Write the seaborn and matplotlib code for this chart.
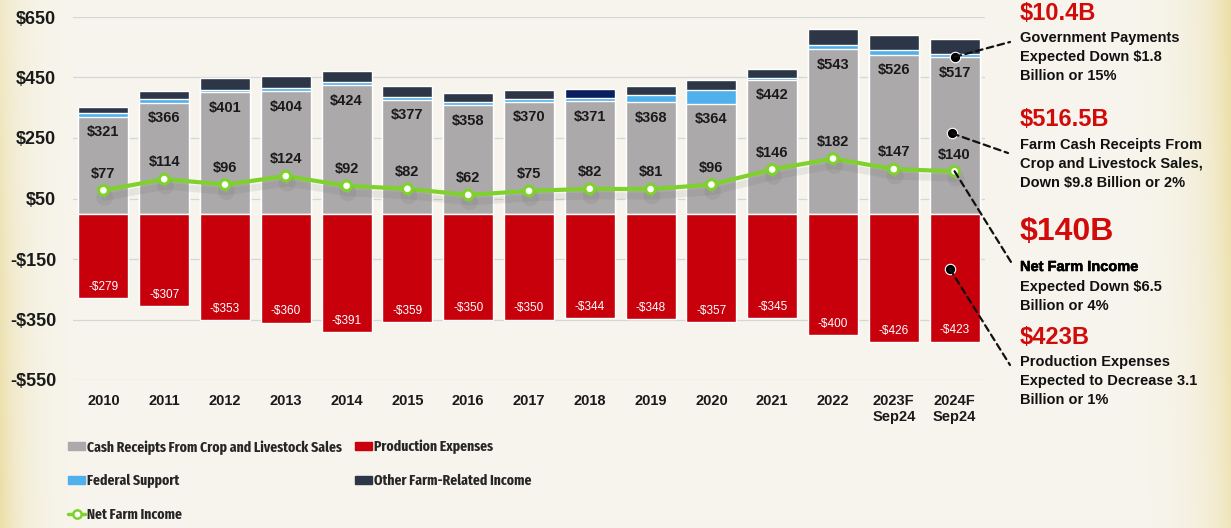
import numpy as np
import pandas as pd
import matplotlib
matplotlib.use("Agg")
import matplotlib.pyplot as plt
import matplotlib.patheffects as pe
from matplotlib import font_manager as fm
from matplotlib.patches import Patch, ConnectionPatch
from matplotlib.lines import Line2D
import seaborn as sns

# ---- data (billions of dollars) ----
years = ["2010", "2011", "2012", "2013", "2014", "2015", "2016", "2017",
         "2018", "2019", "2020", "2021", "2022", "2023F\nSep24", "2024F\nSep24"]
cash_receipts = [321, 366, 401, 404, 424, 377, 358, 370, 371, 368, 364, 442, 543, 526, 517]
federal_support = [10, 12, 9, 10, 12, 9, 11, 8, 11, 23, 46, 6, 14, 14, 10]
other_income = [20, 28, 37, 40, 34, 36, 30, 31, 31, 30, 31, 30, 52, 52, 49]
production_expenses = [-279, -307, -353, -360, -391, -359, -350, -350, -344, -348,
                       -357, -345, -400, -426, -423]
net_farm_income = [77, 114, 96, 124, 92, 82, 62, 75, 82, 81, 96, 146, 182, 147, 140]
y_ticks = [650, 450, 250, 50, -150, -350, -550]
legend_left = ["Cash Receipts From Crop and Livestock Sales", "Federal Support",
               "Net Farm Income"]
legend_right = ["Production Expenses", "Other Farm-Related Income"]

GRAY = "#aba9aa"
RED = "#c8000b"
BLUE = "#4fb0ec"
DARK = "#2c3646"
NAVY = "#0b1d5c"
GREEN = "#7fd12b"
HEAD_RED = "#d10a0a"

sns.set_theme(style="white")
plt.rcParams["font.family"] = ["Liberation Sans", "DejaVu Sans"]

# narrowest bold face available for the legend
def narrow_bold():
    best = None
    for f in fm.fontManager.ttflist:
        key = (f.name + " " + f.fname).lower().replace("-", "").replace(" ", "")
        if "italic" in key or "oblique" in key:
            continue
        w = f.weight if isinstance(f.weight, int) else {"bold": 700}.get(f.weight, 400)
        if w < 600 or w > 800:
            continue
        if "extracondensed" in key or "ultracondensed" in key:
            rank = 0
        elif "semicondensed" in key:
            rank = 2
        elif "condensed" in key or "narrow" in key or f.stretch == "condensed":
            rank = 1
        else:
            continue
        score = (rank, abs(w - 700))
        if best is None or score < best[0]:
            best = (score, f.fname)
    return best[1] if best else None

W, H = 1231, 528
fig = plt.figure(figsize=(W / 100, H / 100), dpi=100)
fig.patch.set_facecolor("#f7f5ee")
renderer = fig.canvas.get_renderer()

nb = narrow_bold()
if nb:
    leg_prop = fm.FontProperties(fname=nb, size=11)
else:
    leg_prop = fm.FontProperties(family="Liberation Sans", weight="bold", size=11)
# size the legend font so the longest entry stays clear of the second column
probe = fig.text(0, 0, legend_left[0], fontproperties=leg_prop)
wpx = probe.get_window_extent(renderer).width
probe.remove()
leg_size = float(np.clip(11 * 255.0 / wpx, 9.0, 11.5))
leg_prop.set_size(leg_size)

def fx(px):
    return px / W

def fy(py):
    return 1 - py / H

# parchment-like background with warm edges
bg = fig.add_axes([0, 0, 1, 1], zorder=-10)
xs = np.arange(W)[None, :].astype(float)
ys = np.arange(H)[:, None].astype(float)
base = np.array([247, 245, 238]) / 255.0
warm = np.array([236, 222, 165]) / 255.0
left = np.exp(-xs / 22.0) * (0.55 + 0.45 * ys / H)
right = np.exp(-(W - 1 - xs) / 28.0) * (0.7 + 0.3 * (1 - ys / H))
wgt = np.clip(left + right, 0, 1)[..., None]
img = base * (1 - wgt) + warm * wgt
bg.imshow(img, aspect="auto", extent=[0, 1, 0, 1])
bg.axis("off")

ax = fig.add_axes([fx(73), fy(380), fx(985) - fx(73), fy(17) - fy(380)])
ax.set_facecolor("none")

df = pd.DataFrame({
    "year": years,
    "cash": cash_receipts,
    "fed": federal_support,
    "other": other_income,
    "exp": production_expenses,
    "net": net_farm_income,
})
df["cash_fed"] = df["cash"] + df["fed"]
df["total"] = df["cash_fed"] + df["other"]

bw = 0.82
top_colors = [NAVY if y == "2018" else DARK for y in years]
sns.barplot(data=df, x="year", y="total", hue="year", palette=top_colors,
            order=years, width=bw, legend=False, ax=ax, saturation=1, zorder=2)
sns.barplot(data=df, x="year", y="cash_fed", order=years, color=BLUE,
            width=bw, ax=ax, saturation=1, zorder=3)
sns.barplot(data=df, x="year", y="cash", order=years, color=GRAY,
            width=bw, ax=ax, saturation=1, zorder=4)
sns.barplot(data=df, x="year", y="exp", order=years, color=RED,
            width=bw, ax=ax, saturation=1, zorder=4)

# net farm income line with soft shadow
sns.lineplot(x=np.arange(len(years)), y=df["net"], ax=ax, color=GREEN, lw=3,
             marker="o", markersize=7, markerfacecolor="white",
             markeredgecolor=GREEN, markeredgewidth=2.2, zorder=6,
             path_effects=[pe.SimpleLineShadow(offset=(1, -5), shadow_color="#555555",
                                               alpha=0.10, linewidth=5),
                           pe.Normal()])

# value labels
for i in range(len(years)):
    ax.annotate(f"${cash_receipts[i]}", (i, cash_receipts[i]), xytext=(0, -11),
                textcoords="offset points", ha="center", va="center",
                fontsize=10.5, fontweight="bold", color="#1a1a1a", zorder=8)
    ax.annotate(f"${net_farm_income[i]}", (i, net_farm_income[i]), xytext=(0, 12),
                textcoords="offset points", ha="center", va="center",
                fontsize=10.5, fontweight="bold", color="#1a1a1a", zorder=8)
    ax.annotate(f"-${-production_expenses[i]}", (i, production_expenses[i]),
                xytext=(0, 8), textcoords="offset points", ha="center", va="center",
                fontsize=8.5, color="white", zorder=8)

ax.set_xlim(-0.5, len(years) - 0.5)
ax.set_ylim(-550, 650)
ax.set_yticks(y_ticks)
ax.set_yticklabels([f"${v}" if v >= 0 else f"-${-v}" for v in y_ticks],
                   fontsize=13, fontweight="bold", color="#1a1a1a")
ax.set_xticks(range(len(years)))
ax.set_xticklabels(years, fontsize=10.5, fontweight="bold", color="#1a1a1a",
                   linespacing=1.15)
ax.tick_params(axis="y", length=0, pad=12)
ax.tick_params(axis="x", length=0, pad=10)
ax.set_xlabel("")
ax.set_ylabel("")
ax.grid(axis="y", color="#d6d6d6", lw=0.9, zorder=0)
ax.set_axisbelow(True)
for s in ax.spines.values():
    s.set_visible(False)

# legend in two blocks, rows 34 px apart starting at y = 447 px
h1 = [Patch(color=GRAY, label=legend_left[0]),
      Patch(color=BLUE, label=legend_left[1]),
      Line2D([], [], color=GREEN, lw=2.5, marker="o", markersize=6,
             markerfacecolor="white", markeredgecolor=GREEN, markeredgewidth=1.8,
             label=legend_left[2])]
h2 = [Patch(color=RED, label=legend_right[0]),
      Patch(color=DARK, label=legend_right[1])]
probe = fig.text(0, 0, legend_left[0], fontproperties=leg_prop)
th = probe.get_window_extent(renderer).height
probe.remove()
font_px = leg_size * 100 / 72.0
for handles, xpos in ((h1, 68), (h2, 355)):
    fig.legend(handles=handles, loc="center left",
               bbox_to_anchor=(fx(xpos), fy(447 + 17 * (len(handles) - 1))),
               frameon=False, prop=leg_prop,
               handlelength=17 / font_px, handleheight=0.45,
               handletextpad=0.12,
               labelspacing=max(0.1, (34 - th) / font_px),
               borderpad=0, borderaxespad=0)

# right-side callouts
tx = fx(1020)
body = dict(fontsize=10.5, fontweight="bold", color="#111111", va="center")
fig.text(tx, fy(13), "$10.4B", color=HEAD_RED, fontsize=17, fontweight="bold",
         va="center")
for k, ln in enumerate(["Government Payments", "Expected Down $1.8", "Billion or 15%"]):
    fig.text(tx, fy(38 + 19 * k), ln, **body)
fig.text(tx, fy(120), "$516.5B", color=HEAD_RED, fontsize=17, fontweight="bold",
         va="center")
for k, ln in enumerate(["Farm Cash Receipts From", "Crop and Livestock Sales,",
                        "Down $9.8 Billion or 2%"]):
    fig.text(tx, fy(145 + 19 * k), ln, **body)
fig.text(tx, fy(232), "$140B", color=HEAD_RED, fontsize=23, fontweight="bold",
         va="center")
fig.text(tx, fy(267), "Net Farm Income", fontsize=10.5, fontweight="bold",
         color="#000000", va="center",
         path_effects=[pe.withStroke(linewidth=0.4, foreground="#000000")])
for k, ln in enumerate(["Expected Down $6.5", "Billion or 4%"]):
    fig.text(tx, fy(287 + 19 * k), ln, **body)
fig.text(tx, fy(337), "$423B", color=HEAD_RED, fontsize=17, fontweight="bold",
         va="center")
for k, ln in enumerate(["Production Expenses", "Expected to Decrease 3.1",
                        "Billion or 1%"]):
    fig.text(tx, fy(362 + 19 * k), ln, **body)

# dashed leader lines with dots
last = len(years) - 1
leaders = [((last, 518), (1010, 42), True),
           ((last - 0.04, 265), (1008, 153), True),
           ((last, net_farm_income[-1]), (1011, 262), False),
           ((last - 0.08, -182), (1010, 365), True)]
for (xd, yd), (px, py), dot in leaders:
    con = ConnectionPatch(xyA=(xd, yd), coordsA=ax.transData,
                          xyB=(fx(px), fy(py)), coordsB=fig.transFigure,
                          color="#111111", lw=1.6, ls=(0, (3, 2)), zorder=9)
    fig.add_artist(con)
    if dot:
        ax.plot([xd], [yd], "o", color="black", markersize=7.5,
                markeredgecolor="white", markeredgewidth=0.8, zorder=10)

fig.savefig("out.png", dpi=100, facecolor=fig.get_facecolor())
